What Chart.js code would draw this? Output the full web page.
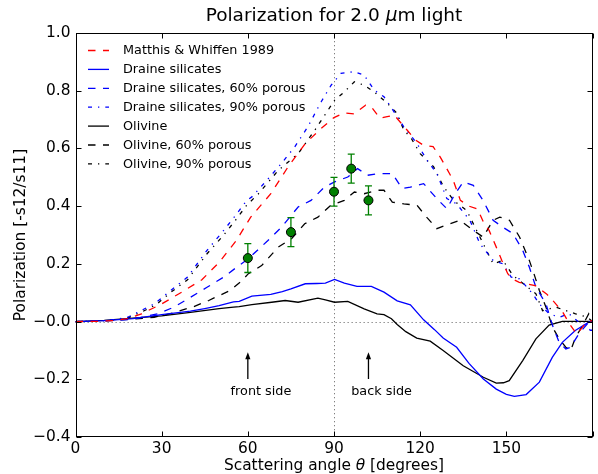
<!DOCTYPE html>
<html>
<head>
<meta charset="utf-8">
<script src="https://cdn.jsdelivr.net/npm/chart.js@4.4.0/dist/chart.umd.min.js"></script>
<style>
  html, body { margin: 0; padding: 0; background: #fff; }
</style>
</head>
<body>
<canvas id="polChart" width="598" height="474"></canvas>
<script>
// --- data (angle in degrees, polarization -s12/s11) ---

const mwAngle = [0, 8, 14, 18, 23, 30, 37, 44, 50, 56, 61, 68, 74, 80, 85.5, 90, 93.5, 97, 101, 103, 106, 108.5, 111, 115.5, 118.5, 121, 124.5, 127, 131.5, 134, 137, 140, 142, 144, 146.5, 148.5, 150.5, 152, 154.5, 157, 160, 164, 166, 169.5, 172, 174.5, 176.5, 178, 180];
const mwPol = [0, 0.001, 0.004, 0.01, 0.027, 0.061, 0.102, 0.145, 0.205, 0.281, 0.362, 0.443, 0.536, 0.617, 0.669, 0.707, 0.723, 0.72, 0.75, 0.744, 0.705, 0.71, 0.715, 0.663, 0.628, 0.612, 0.606, 0.57, 0.49, 0.42, 0.4, 0.39, 0.345, 0.316, 0.258, 0.21, 0.166, 0.148, 0.136, 0.131, 0.125, 0.096, 0.075, 0.035, -0.008, -0.043, -0.02, 0.0, 0.003];

const draineAngle = [0, 10, 20, 30, 40, 45, 50, 55, 57, 61.4, 68, 72, 75, 80, 84, 87, 90.2, 93.6, 98, 103, 107.4, 112, 116.6, 121.2, 125, 128, 132.7, 137, 142, 146.5, 150, 152.8, 156.9, 161.5, 166, 169.5, 174, 178.7, 180];
const drainePol = [0, 0.003, 0.01, 0.024, 0.036, 0.045, 0.055, 0.068, 0.07, 0.088, 0.094, 0.104, 0.113, 0.131, 0.132, 0.133, 0.146, 0.133, 0.122, 0.122, 0.102, 0.072, 0.058, 0.006, -0.028, -0.057, -0.089, -0.145, -0.199, -0.234, -0.252, -0.259, -0.253, -0.21, -0.124, -0.072, -0.031, -0.002, 0];

const draine60Angle = [0, 10, 20, 28.6, 34.3, 40, 45.8, 51.6, 56.2, 60.2, 67, 71.7, 77.5, 82, 86.7, 90.2, 94.8, 98.2, 101.7, 106, 110.3, 113.7, 116.6, 121.2, 125.8, 129.3, 132, 135, 138.5, 141.9, 145.4, 148.8, 152.3, 155.7, 158, 160.3, 163.8, 166.1, 168.4, 170.7, 172.4, 175.2, 178.7, 180];
const draine60Pol = [0, 0.002, 0.008, 0.027, 0.05, 0.084, 0.119, 0.154, 0.189, 0.218, 0.281, 0.327, 0.397, 0.42, 0.466, 0.484, 0.501, 0.53, 0.507, 0.513, 0.513, 0.461, 0.466, 0.478, 0.426, 0.391, 0.44, 0.484, 0.472, 0.42, 0.351, 0.327, 0.305, 0.247, 0.189, 0.119, 0.061, -0.014, -0.072, -0.095, -0.089, -0.043, -0.002, 0];

const draine90Angle = [0, 8, 14, 18.2, 22.8, 27.4, 33.2, 39, 45.8, 51.6, 56.2, 59.6, 61.4, 67.1, 71.7, 76.3, 80.9, 85.5, 89, 92.4, 97.1, 100.5, 104, 107.4, 110.9, 114.3, 118.9, 122.4, 125.8, 129.3, 132.7, 137.3, 140.8, 145.4, 148.8, 151.7, 154.6, 159.2, 161.5, 164.9, 168.4, 171.8, 175.2, 179.3, 180];
const draine90Pol = [0, 0.002, 0.007, 0.015, 0.038, 0.061, 0.108, 0.154, 0.247, 0.316, 0.374, 0.42, 0.432, 0.495, 0.548, 0.605, 0.675, 0.761, 0.819, 0.86, 0.866, 0.854, 0.802, 0.779, 0.727, 0.675, 0.617, 0.559, 0.513, 0.426, 0.408, 0.351, 0.27, 0.212, 0.2, 0.154, 0.148, 0.096, 0.061, 0.027, 0.015, 0.027, -0.002, -0.03, -0.03];

const olivAngle = [0, 10, 20, 30, 40, 50, 55, 57, 61.4, 68.3, 73, 77.5, 84.4, 87, 90.2, 94.8, 100.5, 105, 107.4, 110, 112, 115, 118.8, 123.5, 128, 135, 142, 146.5, 149, 151, 155.7, 160.3, 164.9, 169.5, 180];
const olivPol = [0, 0.004, 0.012, 0.02, 0.032, 0.045, 0.05, 0.052, 0.059, 0.067, 0.073, 0.067, 0.081, 0.075, 0.067, 0.07, 0.044, 0.027, 0.024, 0.01, -0.01, -0.035, -0.057, -0.068, -0.1, -0.153, -0.193, -0.213, -0.212, -0.205, -0.135, -0.06, -0.012, 0.001, 0.001];

const oliv60Angle = [0, 10, 20.5, 27.4, 34, 41.2, 46.4, 48.7, 53.9, 57.4, 60.2, 64.8, 70.6, 75.2, 79.8, 84.4, 88.9, 93.6, 97.1, 100.5, 105, 107.4, 110.3, 114.3, 118.9, 122.4, 125.8, 130.4, 133.9, 138.5, 141.9, 145.4, 147.7, 151.1, 154.6, 158, 159.8, 161.5, 163.8, 166.1, 168.4, 170.7, 172.4, 174.1, 176.5, 178.7, 180];
const oliv60Pol = [0, 0.002, 0.009, 0.015, 0.03, 0.052, 0.073, 0.084, 0.108, 0.137, 0.166, 0.194, 0.258, 0.287, 0.339, 0.362, 0.403, 0.42, 0.449, 0.443, 0.455, 0.455, 0.414, 0.408, 0.403, 0.36, 0.322, 0.339, 0.351, 0.316, 0.293, 0.351, 0.362, 0.351, 0.293, 0.212, 0.16, 0.108, 0.05, -0.02, -0.06, -0.089, -0.1, -0.055, -0.014, 0.027, 0];

const oliv90Angle = [0, 8, 14, 18, 23, 28, 33, 39, 45.8, 51.6, 56, 59.6, 63.7, 70.6, 77.5, 83.3, 90.2, 93.6, 97.1, 100.5, 104, 108.6, 112, 114.3, 116.6, 120, 124.7, 128, 131.6, 136.2, 140.8, 145.4, 148.8, 152.3, 154.6, 160.3, 162.6, 167.2, 170.7, 174.1, 178.2, 180];
const oliv90Pol = [0, 0.002, 0.006, 0.012, 0.033, 0.058, 0.1, 0.145, 0.235, 0.3, 0.355, 0.403, 0.443, 0.524, 0.582, 0.663, 0.767, 0.796, 0.831, 0.819, 0.796, 0.756, 0.721, 0.663, 0.64, 0.582, 0.536, 0.47, 0.42, 0.385, 0.293, 0.2, 0.212, 0.16, 0.142, 0.096, 0.038, 0.05, 0.038, 0.027, 0.015, 0];

// observed points with error bars
const obsAngle = [60, 75, 90, 96, 102];
const obsPol = [0.22, 0.31, 0.45, 0.53, 0.42];
const obsErr = [0.05, 0.05, 0.05, 0.05, 0.05];

const xTicks = [0, 30, 60, 90, 120, 150, 180];
const yTicks = [-0.4, -0.2, 0.0, 0.2, 0.4, 0.6, 0.8, 1.0];

const notes = [
  { text: "front side", at: 60, textAt: 54 },
  { text: "back side", at: 102, textAt: 96 },
];

const FONT = "'DejaVu Sans', 'Noto Sans', sans-serif";
const DASH = [7.5, 7.5];
const DASHDOT = [4, 6, 1.3, 6];

function pts(xs, ys) {
  return xs.map((v, i) => ({ x: v, y: ys[i] }));
}

function series(label, xs, ys, color, dash) {
  return {
    label: label,
    data: pts(xs, ys),
    borderColor: color,
    borderWidth: 1.3,
    borderDash: dash,
    pointRadius: 0,
    fill: false,
    tension: 0,
  };
}

// --- extra drawing: guides, error bars, frame, legend, arrows, labels ---

const decor = {
  id: "decor",
  beforeDatasetsDraw(chart) {
    const { ctx, chartArea: a, scales } = chart;
    ctx.save();
    ctx.strokeStyle = "#808080";
    ctx.lineWidth = 1;
    ctx.setLineDash([1.3, 2.7]);
    ctx.beginPath();
    const gx = Math.round(scales.x.getPixelForValue(90)) + 0.5;
    ctx.moveTo(gx, a.top);
    ctx.lineTo(gx, a.bottom);
    const gy = Math.round(scales.y.getPixelForValue(0)) + 0.5;
    ctx.moveTo(a.left, gy);
    ctx.lineTo(a.right, gy);
    ctx.stroke();
    ctx.restore();
  },
  beforeDatasetDraw(chart, args) {
    if (args.index !== 0) return;
    const { ctx, scales } = chart;
    ctx.save();
    ctx.strokeStyle = "#008000";
    ctx.lineWidth = 1.3;
    obsAngle.forEach((ang, i) => {
      const px = scales.x.getPixelForValue(ang);
      const top = scales.y.getPixelForValue(obsPol[i] + obsErr[i]);
      const bot = scales.y.getPixelForValue(obsPol[i] - obsErr[i]);
      ctx.beginPath();
      ctx.moveTo(px, top);
      ctx.lineTo(px, bot);
      ctx.moveTo(px - 3.5, top);
      ctx.lineTo(px + 3.5, top);
      ctx.moveTo(px - 3.5, bot);
      ctx.lineTo(px + 3.5, bot);
      ctx.stroke();
    });
    ctx.restore();
  },
  afterDraw(chart) {
    const { ctx, chartArea: a, scales } = chart;
    const L = Math.round(a.left) + 0.5, R = Math.round(a.right) - 0.5;
    const T = Math.round(a.top) + 0.5, B = Math.round(a.bottom) - 0.5;
    ctx.save();

    // frame and inward ticks on all four sides
    ctx.strokeStyle = "#000";
    ctx.lineWidth = 1;
    ctx.strokeRect(L, T, R - L, B - T);
    ctx.beginPath();
    xTicks.forEach((v) => {
      const px = Math.round(scales.x.getPixelForValue(v)) + 0.5;
      ctx.moveTo(px, B); ctx.lineTo(px, B - 5);
      ctx.moveTo(px, T); ctx.lineTo(px, T + 5);
    });
    yTicks.forEach((v) => {
      const py = Math.round(scales.y.getPixelForValue(v)) + 0.5;
      ctx.moveTo(L, py); ctx.lineTo(L + 5, py);
      ctx.moveTo(R, py); ctx.lineTo(R - 5, py);
    });
    ctx.stroke();

    // legend (no frame), top-left inside the axes
    ctx.font = "12.8px " + FONT;
    ctx.textBaseline = "middle";
    ctx.textAlign = "left";
    chart.data.datasets.slice(1).forEach((ds, i) => {
      const ry = 50.5 + i * 18.9;
      ctx.strokeStyle = ds.borderColor;
      ctx.lineWidth = 1.3;
      ctx.setLineDash(ds.borderDash);
      ctx.beginPath();
      ctx.moveTo(88, ry);
      ctx.lineTo(109, ry);
      ctx.stroke();
      ctx.setLineDash([]);
      ctx.fillStyle = "#000";
      ctx.fillText(ds.label, 123, ry + 0.5);
    });

    // arrows with notes
    ctx.strokeStyle = "#000";
    ctx.fillStyle = "#000";
    ctx.lineWidth = 1.3;
    notes.forEach((n) => {
      const px = scales.x.getPixelForValue(n.at);
      const tail = scales.y.getPixelForValue(-0.199);
      const tip = scales.y.getPixelForValue(-0.106);
      ctx.beginPath();
      ctx.moveTo(px, tail);
      ctx.lineTo(px, tip + 5);
      ctx.stroke();
      ctx.beginPath();
      ctx.moveTo(px, tip);
      ctx.lineTo(px - 2.6, tip + 7);
      ctx.lineTo(px + 2.6, tip + 7);
      ctx.closePath();
      ctx.fill();
      ctx.textBaseline = "alphabetic";
      ctx.fillText(n.text, scales.x.getPixelForValue(n.textAt), scales.y.getPixelForValue(-0.253));
    });

    // title with italic mu
    const cx = (a.left + a.right) / 2;
    const parts = [
      ["Polarization for 2.0 ", "18.5px " + FONT],
      ["\u03bc", "italic 18.5px " + FONT],
      ["m light", "18.5px " + FONT],
    ];
    drawParts(ctx, parts, cx, 21);

    // x axis label with italic theta
    drawParts(ctx, [
      ["Scattering angle ", "15.4px " + FONT],
      ["\u03b8", "italic 15.4px " + FONT],
      [" [degrees]", "15.4px " + FONT],
    ], cx, 470);

    // y axis label
    ctx.save();
    ctx.translate(21, (a.top + a.bottom) / 2);
    ctx.rotate(-Math.PI / 2);
    ctx.font = "15.4px " + FONT;
    ctx.textAlign = "center";
    ctx.textBaseline = "middle";
    ctx.fillText("Polarization [-s12/s11]", 0, 0);
    ctx.restore();

    ctx.restore();
  },
};

function drawParts(ctx, parts, cx, baseline) {
  let total = 0;
  parts.forEach((p) => { ctx.font = p[1]; total += ctx.measureText(p[0]).width; });
  let x0 = cx - total / 2;
  ctx.textAlign = "left";
  ctx.textBaseline = "alphabetic";
  ctx.fillStyle = "#000";
  parts.forEach((p) => {
    ctx.font = p[1];
    ctx.fillText(p[0], x0, baseline);
    x0 += ctx.measureText(p[0]).width;
  });
}

const polChart = new Chart(document.getElementById("polChart").getContext("2d"), {
  type: "line",
  data: {
    datasets: [
      {
        label: "observed",
        data: pts(obsAngle, obsPol),
        showLine: false,
        pointRadius: 4.5,
        pointBackgroundColor: "#008000",
        pointBorderColor: "#000",
        pointBorderWidth: 1,
      },
      series("Matthis & Whiffen 1989", mwAngle, mwPol, "#ff0000", DASH),
      series("Draine silicates", draineAngle, drainePol, "#0000ff", []),
      series("Draine silicates, 60% porous", draine60Angle, draine60Pol, "#0000ff", DASH),
      series("Draine silicates, 90% porous", draine90Angle, draine90Pol, "#0000ff", DASHDOT),
      series("Olivine", olivAngle, olivPol, "#000000", []),
      series("Olivine, 60% porous", oliv60Angle, oliv60Pol, "#000000", DASH),
      series("Olivine, 90% porous", oliv90Angle, oliv90Pol, "#000000", DASHDOT),
    ],
  },
  options: {
    responsive: false,
    animation: false,
    layout: { padding: { top: 33, right: 2, bottom: 0, left: 0 } },
    plugins: {
      legend: { display: false },
      tooltip: { enabled: false },
      title: { display: false },
    },
    scales: {
      x: {
        type: "linear",
        min: 0,
        max: 180,
        grid: { display: false, drawTicks: false },
        border: { display: false },
        ticks: {
          stepSize: 30,
          padding: 3,
          maxRotation: 0,
          color: "#000",
          font: { family: FONT, size: 15.4 },
          callback: (v) => (v >= 180 ? "" : String(v)),
        },
        afterFit: (s) => { s.height = 37; },
      },
      y: {
        type: "linear",
        min: -0.4,
        max: 1.0,
        grid: { display: false, drawTicks: false },
        border: { display: false },
        ticks: {
          stepSize: 0.2,
          padding: 5,
          color: "#000",
          font: { family: FONT, size: 15.4 },
          callback: (v) => v.toFixed(1).replace("-", "\u2212"),
        },
        afterFit: (s) => { s.width = 75.5; },
      },
    },
  },
  plugins: [decor],
});
</script>
</body>
</html>
